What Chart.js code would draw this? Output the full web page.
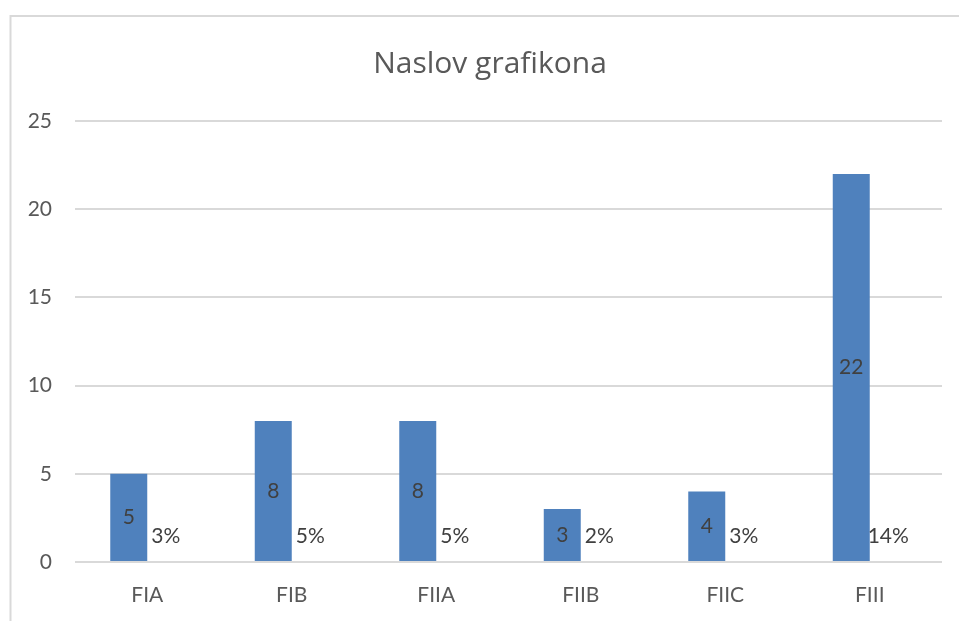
<!DOCTYPE html>
<html>
<head>
<meta charset="utf-8">
<script src="https://cdn.jsdelivr.net/npm/chart.js@4/dist/chart.umd.min.js"></script>
<style>
    html, body { margin: 0; padding: 0; background: #fff; }
    #wrap { width: 959px; height: 621px; position: relative; }
</style>
</head>
<body>
<div id="wrap"><canvas id="chart" width="959" height="621"></canvas></div>
<script>
const categories = ['FIA', 'FIB', 'FIIA', 'FIIB', 'FIIC', 'FIII'];
const counts = [5, 8, 8, 3, 4, 22];
const shares = [0.03, 0.05, 0.05, 0.02, 0.03, 0.14];
const yMax = 25;
const yStep = 5;

const textColor = '#595959';
const labelColor = '#404040';
const gridColor = '#d9d9d9';
const fontFamily = 'Lato, "Open Sans", sans-serif';

// outer frame of the chart (only top and left edges are visible)
const framePlugin = {
    id: 'frame',
    afterLayout(chart) {
        // centre the title on the frame rather than on the plot box
        if (chart.titleBlock) {
            chart.titleBlock.left = 38;
            chart.titleBlock.right = 942;
        }
    },
    beforeDraw(chart) {
        const ctx = chart.ctx;
        ctx.save();
        ctx.strokeStyle = gridColor;
        ctx.lineWidth = 2;
        ctx.beginPath();
        ctx.moveTo(10.5, chart.height);
        ctx.lineTo(10.5, 16);
        ctx.lineTo(chart.width, 16);
        ctx.stroke();
        ctx.restore();
    }
};

// data labels, centred in the bar but kept above the axis
const labelPlugin = {
    id: 'barLabels',
    afterDatasetsDraw(chart) {
        const ctx = chart.ctx;
        ctx.save();
        ctx.font = '21px ' + fontFamily;
        ctx.fillStyle = labelColor;
        ctx.textAlign = 'center';
        ctx.textBaseline = 'middle';
        chart.data.datasets.forEach((ds, di) => {
            const meta = chart.getDatasetMeta(di);
            meta.data.forEach((bar, i) => {
                const v = ds.data[i];
                const text = di === 1 ? Math.round(v * 100) + '%' : String(v);
                const y = Math.min((bar.y + bar.base) / 2, bar.base - 25);
                ctx.fillText(text, bar.x, y);
            });
        });
        ctx.restore();
    }
};

new Chart(document.getElementById('chart'), {
    type: 'bar',
    data: {
        labels: categories,
        datasets: [
            {
                label: 'Broj',
                data: counts,
                backgroundColor: '#4f81bd',
                categoryPercentage: 0.512,
                barPercentage: 1,
            },
            {
                label: 'Udio',
                data: shares,
                backgroundColor: 'rgba(0,0,0,0)',
                categoryPercentage: 0.512,
                barPercentage: 1,
            }
        ]
    },
    options: {
        responsive: false,
        animation: false,
        layout: { padding: { left: 0, right: 17, top: 0, bottom: 0 } },
        plugins: {
            legend: { display: false },
            tooltip: { enabled: false },
            title: {
                display: true,
                text: 'Naslov grafikona',
                color: textColor,
                font: { family: '"Open Sans", Lato, sans-serif', size: 30, weight: 'normal' },
                padding: { top: 46, bottom: 39 },
            }
        },
        scales: {
            x: {
                grid: { display: false, drawTicks: false },
                border: { display: false },
                ticks: {
                    color: textColor,
                    font: { family: fontFamily, size: 21 },
                    padding: 21,
                },
                afterFit(scale) { scale.height = 59; }
            },
            y: {
                min: 0,
                max: yMax,
                grid: { color: gridColor, lineWidth: 2, drawTicks: false },
                border: { display: false },
                ticks: {
                    stepSize: yStep,
                    color: textColor,
                    font: { family: fontFamily, size: 21 },
                    padding: 23,
                },
                afterFit(scale) { scale.width = 75; }
            }
        }
    },
    plugins: [framePlugin, labelPlugin]
});
</script>
</body>
</html>
